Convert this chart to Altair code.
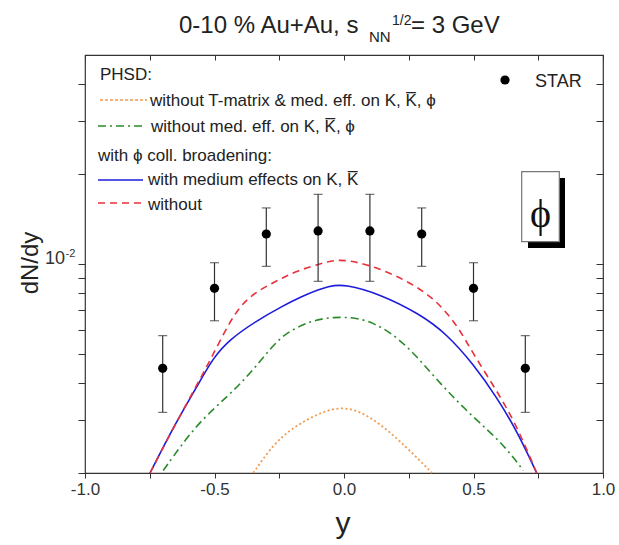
import altair as alt
import pandas as pd

# STAR measurement, 0-10% Au+Au at sqrt(s_NN) = 3 GeV
star_rap = [-0.7, -0.5, -0.3, -0.1, 0.1, 0.3, 0.5, 0.7]
star_dndy = [0.00448, 0.00829, 0.0126, 0.0129, 0.0129, 0.0126, 0.00829, 0.00448]
star_hi = [0.00576, 0.0101, 0.0154, 0.0171, 0.0171, 0.0154, 0.0101, 0.00576]
star_lo = [0.00319, 0.00646, 0.00982, 0.00875, 0.00875, 0.00982, 0.00646, 0.00319]

# PHSD: without T-matrix & medium effects on K, Kbar, phi
orange_rap = [-0.35, -0.273, -0.196, -0.105, 0.0, 0.113, 0.242, 0.34]
orange_dndy = [0.002, 0.0025, 0.00284, 0.00315, 0.00338, 0.00307, 0.00244, 0.002]

# PHSD: without medium effects on K, Kbar, phi
green_rap = [-0.698, -0.569, -0.453, -0.376, -0.312, -0.247, -0.183, -0.105, 0.0,
             0.113, 0.242, 0.371, 0.499, 0.615, 0.692]
green_dndy = [0.00204, 0.00292, 0.00358, 0.00418, 0.00487, 0.00568, 0.00614, 0.00655, 0.00669,
              0.00646, 0.0054, 0.00397, 0.00307, 0.0025, 0.00204]

# PHSD with phi collisional broadening: with medium effects on K, Kbar
blue_rap = [-0.749, -0.659, -0.569, -0.505, -0.44, -0.337, -0.247, -0.144, -0.054, 0.0,
            0.139, 0.293, 0.397, 0.499, 0.59, 0.667, 0.744]
blue_dndy = [0.002, 0.00285, 0.00387, 0.00487, 0.00561, 0.00646, 0.00716, 0.00794, 0.00846, 0.00856,
             0.00794, 0.0068, 0.00583, 0.00463, 0.00358, 0.00277, 0.002]

# PHSD with phi collisional broadening: without medium effects
red_rap = [-0.749, -0.659, -0.556, -0.511, -0.44, -0.376, -0.273, -0.183, -0.054, 0.0,
           0.113, 0.242, 0.345, 0.435, 0.499, 0.59, 0.667, 0.744]
red_dndy = [0.002, 0.00283, 0.00412, 0.00487, 0.00646, 0.00773, 0.00868, 0.0095, 0.01026, 0.01035,
            0.00987, 0.0088, 0.00773, 0.0063, 0.005, 0.00377, 0.00288, 0.002]

x_ticks = [-1.0, -0.75, -0.5, -0.25, 0.0, 0.25, 0.5, 0.75, 1.0]
y_ticks = [0.002, 0.003, 0.004, 0.005, 0.006, 0.007, 0.008, 0.009, 0.01, 0.02, 0.03, 0.04]

FONT = "Liberation Sans"
INK = "#222222"
W, H = 518, 418

xscale = alt.Scale(domain=[-1, 1], nice=False, zero=False)
yscale = alt.Scale(type="log", domain=[0.002, 0.05], nice=False)

star = pd.DataFrame({"rap": star_rap, "v": star_dndy, "hi": star_hi, "lo": star_lo})
one = pd.DataFrame({"k": [0]})

label_expr = ("indexof([-0.75, -0.25, 0.25, 0.75], datum.value) >= 0 ? '' : "
              "replace(format(datum.value, '.1f'), '\u2212', '-')")

bottom_axis = alt.Axis(orient="bottom", values=x_ticks, labelExpr=label_expr, tickSize=5,
                       tickColor="#333", labelFont=FONT, labelFontSize=17, labelColor="#333",
                       labelPadding=3, labelFlush=False, labelOverlap=False, domain=False,
                       grid=False, title=None)
left_axis = alt.Axis(orient="left", values=y_ticks, labels=False, tickSize=7, tickColor="#333",
                     domain=False, grid=False, title=None)
top_axis = alt.Axis(orient="top", values=x_ticks, labels=False, tickSize=5, offset=-5,
                    tickColor="#333", domain=False, grid=False, title=None)
right_axis = alt.Axis(orient="right", values=y_ticks, labels=False, tickSize=7, offset=-7,
                      tickColor="#333", domain=False, grid=False, title=None)


def curve(rap, dndy, color, dash=None, axes=False, width=1.6):
    df = pd.DataFrame({"rap": rap, "v": dndy, "i": range(len(rap))})
    kw = dict(color=color, strokeWidth=width, interpolate="basis")
    if dash:
        kw["strokeDash"] = dash
    return alt.Chart(df).mark_line(**kw).encode(
        x=alt.X("rap:Q", scale=xscale, axis=bottom_axis if axes else None),
        y=alt.Y("v:Q", scale=yscale, axis=left_axis if axes else None),
        order="i:O",
    )


def txt(s, x, y, size=17, align="left", baseline="alphabetic", font=FONT, angle=0, color=INK):
    kw = dict(text=s, align=align, baseline=baseline, font=font, fontSize=size, color=color)
    if angle:
        kw["angle"] = angle
    return alt.Chart(one).mark_text(**kw).encode(x=alt.value(x), y=alt.value(y))


def sample(x1, x2, y, color, dash=None, width=1.6):
    kw = dict(color=color, strokeWidth=width)
    if dash:
        kw["strokeDash"] = dash
    return alt.Chart(one).mark_rule(**kw).encode(x=alt.value(x1), x2=alt.value(x2), y=alt.value(y))


ORANGE, GREEN, BLUE, RED = "#f29b4c", "#2a8a2a", "#1c1cdc", "#e8313a"

blue = curve(blue_rap, blue_dndy, BLUE, axes=True)
red = curve(red_rap, red_dndy, RED, dash=[7, 5])
green = curve(green_rap, green_dndy, GREEN, dash=[8, 4, 2, 4])
orange = curve(orange_rap, orange_dndy, ORANGE, dash=[2, 2.5], width=1.8)

# mirrored ticks on the top and right frame edges
mirror = alt.Chart(star).mark_point(opacity=0).encode(
    x=alt.X("rap:Q", scale=xscale, axis=top_axis),
    y=alt.Y("v:Q", scale=yscale, axis=right_axis),
)

bars = alt.Chart(star).mark_rule(color="#333", strokeWidth=1.2).encode(
    x=alt.X("rap:Q", scale=xscale, axis=None),
    y=alt.Y("lo:Q", scale=yscale, axis=None),
    y2="hi:Q",
)
cap_hi = alt.Chart(star).mark_tick(color="#333", thickness=1.2, size=9, orient="horizontal").encode(
    x=alt.X("rap:Q", scale=xscale, axis=None), y=alt.Y("hi:Q", scale=yscale, axis=None))
cap_lo = alt.Chart(star).mark_tick(color="#333", thickness=1.2, size=9, orient="horizontal").encode(
    x=alt.X("rap:Q", scale=xscale, axis=None), y=alt.Y("lo:Q", scale=yscale, axis=None))
points = alt.Chart(star).mark_point(filled=True, color="black", size=85, opacity=1).encode(
    x=alt.X("rap:Q", scale=xscale, axis=None), y=alt.Y("v:Q", scale=yscale, axis=None))

# y tick label 10^-2, placed by the y scale
ylab10 = alt.Chart(pd.DataFrame({"v": [0.01]})).mark_text(
    text="10", align="right", baseline="alphabetic", font=FONT, fontSize=18, color="#333"
).encode(x=alt.value(-20), y=alt.Y("v:Q", scale=yscale, axis=None))
ylabexp = alt.Chart(pd.DataFrame({"v": [0.01]})).mark_text(
    text="-2", align="left", baseline="alphabetic", font=FONT, fontSize=11, color="#333", dy=-7
).encode(x=alt.value(-19.5), y=alt.Y("v:Q", scale=yscale, axis=None))

# title with sub/superscripts
title = [
    txt("0-10 % Au+Au, s", 94, -22, size=24),
    txt("NN", 284, -13, size=15),
    txt("1/2", 307, -30, size=14),
    txt("= 3 GeV", 326, -22, size=24),
]

axis_titles = [
    txt("dN/dy", -54, 208, size=24, align="center", baseline="middle", angle=270),
    txt("y", 258, 478, size=30, align="center"),
]

legend = [
    txt("PHSD:", 15, 25),
    sample(15, 62, 45, ORANGE, dash=[3, 2], width=1.6),
    txt("without T-matrix & med. eff. on K, K\u0305, \u03d5", 65, 51),
    sample(13, 57, 71, GREEN, dash=[8, 4, 2, 4]),
    txt("without med. eff. on K, K\u0305, \u03d5", 66, 77),
    txt("with \u03d5 coll. broadening:", 13, 106),
    sample(13, 58, 125, BLUE),
    txt("with medium effects on K, K\u0305", 63, 130),
    sample(13, 58, 148, RED, dash=[7, 5]),
    txt("without", 63, 155),
    alt.Chart(one).mark_point(filled=True, color="black", size=85, opacity=1).encode(
        x=alt.value(420), y=alt.value(25)),
    txt("STAR", 450, 32, size=18),
]

# boxed phi symbol with drop shadow
phi_box = [
    alt.Chart(one).mark_rect(color="black").encode(
        x=alt.value(443), x2=alt.value(480), y=alt.value(123), y2=alt.value(193)),
    alt.Chart(one).mark_rect(fill="white", stroke="#777", strokeWidth=1.2).encode(
        x=alt.value(436.7), x2=alt.value(474.3), y=alt.value(116.7), y2=alt.value(186.7)),
    txt("\u03d5", 455.5, 160, size=40, align="center", baseline="middle",
        font="Liberation Serif, DejaVu Serif, serif", color="#111"),
]

chart = alt.layer(
    orange, green, blue, red, mirror, bars, cap_hi, cap_lo, points, ylab10, ylabexp,
    *title, *axis_titles, *legend, *phi_box,
).resolve_axis(x="independent", y="independent").properties(
    width=W, height=H,
    autosize=alt.AutoSizeParams(type="none"),
    padding={"left": 85, "top": 55, "right": 16, "bottom": 72},
    background="white",
).configure_view(stroke="#333", strokeWidth=1.2)

chart.save("out.html", embed_options={"renderer": "svg", "actions": False})
